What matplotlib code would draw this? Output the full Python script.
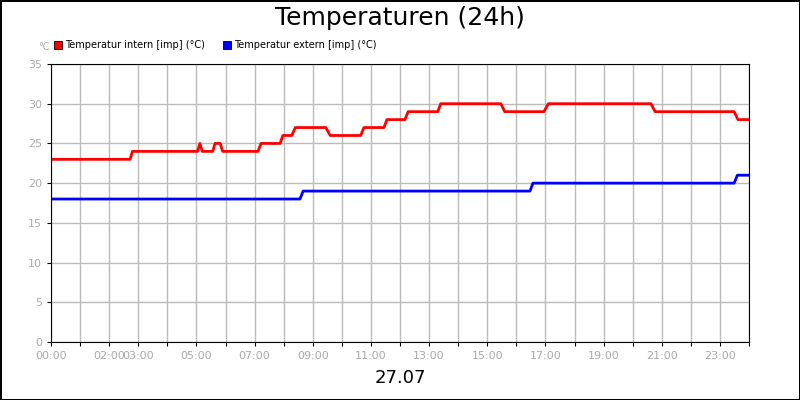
import matplotlib
matplotlib.use("Agg")
import matplotlib.pyplot as plt
from matplotlib.lines import Line2D

# Stunden und Werte
intern_t = [0, 2.72, 2.8, 5.04, 5.12, 5.2, 5.56, 5.64, 5.82, 5.9, 7.12, 7.22, 7.88, 7.97,
            8.28, 8.4, 9.45, 9.6, 10.65, 10.76, 11.45, 11.55, 12.17, 12.28, 13.3, 13.4,
            15.47, 15.6, 16.95, 17.1, 20.63, 20.77, 23.49, 23.62, 24]
intern_v = [23, 23, 24, 24, 25, 24, 24, 25, 25, 24, 24, 25, 25, 26,
            26, 27, 27, 26, 26, 27, 27, 28, 28, 29, 29, 30,
            30, 29, 29, 30, 30, 29, 29, 28, 28]
extern_t = [0, 8.56, 8.67, 16.47, 16.57, 23.49, 23.6, 24]
extern_v = [18, 18, 19, 19, 20, 20, 21, 21]

tick_hours = list(range(0, 25))
label_hours = {0: "00:00", 2: "02:00", 3: "03:00", 5: "05:00", 7: "07:00", 9: "09:00",
               11: "11:00", 13: "13:00", 15: "15:00", 17: "17:00", 19: "19:00",
               21: "21:00", 23: "23:00"}

fig = plt.figure(figsize=(8, 4), dpi=100)
fig.patch.set_edgecolor("black")
fig.patch.set_linewidth(2)
ax = fig.add_axes([51 / 800, 1 - 342 / 400, 698 / 800, 278 / 400])

ax.plot(intern_t, intern_v, color="#ff0000", lw=2)
ax.plot(extern_t, extern_v, color="#0000ff", lw=2)

ax.set_xlim(0, 24)
ax.set_ylim(0, 35)
ax.set_yticks(range(0, 36, 5))
ax.set_xticks(tick_hours)
ax.set_xticklabels([label_hours.get(h, "") for h in tick_hours])
ax.grid(True, color="#bbbbbb", lw=1)
ax.set_axisbelow(True)
ax.tick_params(labelsize=8, labelcolor="#aaaaaa", length=3)

fig.text(0.5, 1 - 18 / 400, "Temperaturen (24h)", ha="center", va="center", fontsize=18)
fig.text(0.5, 1 - 378 / 400, "27.07", ha="center", va="center", fontsize=13)
fig.text(38 / 800, 1 - 47 / 400, "°C", fontsize=7, color="#aaaaaa", va="center")

# Legende mit kleinen Quadraten
handles = [Line2D([], [], ls="", marker="s", markersize=6, markerfacecolor=c,
                  markeredgecolor="black", markeredgewidth=0.6) for c in ("#ff0000", "#0000ff")]
fig.legend(handles, ["Temperatur intern [imp] (°C)", "Temperatur extern [imp] (°C)"],
           loc="center left", bbox_to_anchor=(55 / 800, 1 - 45 / 400), ncol=2, frameon=False,
           fontsize=7, handlelength=0.6, columnspacing=2.0, handletextpad=0.4,
           borderaxespad=0, borderpad=0)

fig.savefig("out.png")
